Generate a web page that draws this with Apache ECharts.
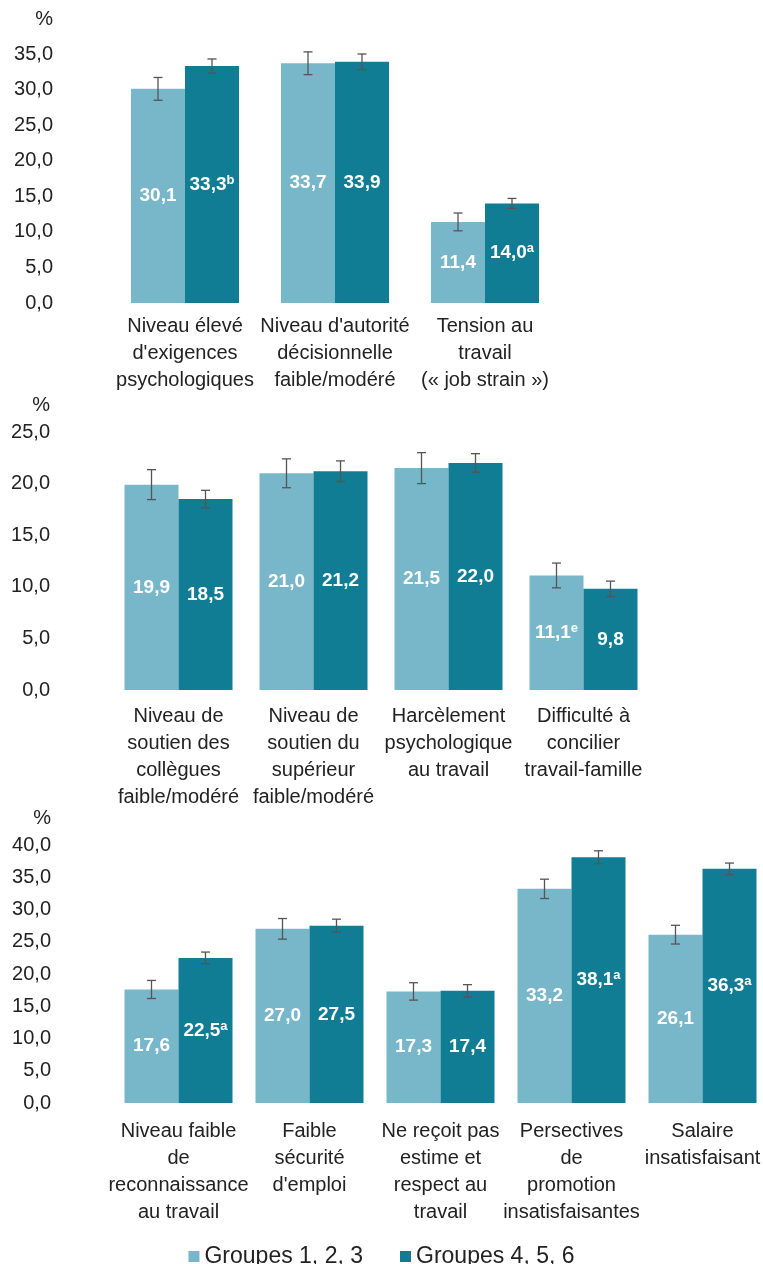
<!DOCTYPE html>
<html>
<head>
<meta charset="utf-8">
<script src="https://cdn.jsdelivr.net/npm/echarts@6/dist/echarts.min.js"></script>
<style>
html,body{margin:0;padding:0;background:#fff;}
#chart{width:763px;height:1264px;}
</style>
</head>
<body>
<div id="chart"></div>
<script>
// ---------- DATA ----------
const seriesNames = ['Groupes 1, 2, 3', 'Groupes 4, 5, 6'];

const cats1 = ["Niveau élevé\nd'exigences\npsychologiques", "Niveau d'autorité\ndécisionnelle\nfaible/modéré", "Tension au\ntravail\n(« job strain »)"];
const g1Vals1 = [30.1, 33.7, 11.4];
const g2Vals1 = [33.3, 33.9, 14.0];
const g1Err1 = [1.6, 1.6, 1.25];
const g2Err1 = [1.0, 1.1, 0.7];
const g1Sup1 = ['', '', ''];
const g2Sup1 = ['b', '', 'a'];

const cats2 = ["Niveau de\nsoutien des\ncollègues\nfaible/modéré", "Niveau de\nsoutien du\nsupérieur\nfaible/modéré", "Harcèlement\npsychologique\nau travail", "Difficulté à\nconcilier\ntravail-famille"];
const g1Vals2 = [19.9, 21.0, 21.5, 11.1];
const g2Vals2 = [18.5, 21.2, 22.0, 9.8];
const g1Err2 = [1.45, 1.4, 1.5, 1.2];
const g2Err2 = [0.85, 1.0, 0.9, 0.75];
const g1Sup2 = ['', '', '', 'e'];
const g2Sup2 = ['', '', '', ''];

const cats3 = ["Niveau faible\nde\nreconnaissance\nau travail", "Faible\nsécurité\nd'emploi", "Ne reçoit pas\nestime et\nrespect au\ntravail", "Persectives\nde\npromotion\ninsatisfaisantes", "Salaire\ninsatisfaisant"];
const g1Vals3 = [17.6, 27.0, 17.3, 33.2, 26.1];
const g2Vals3 = [22.5, 27.5, 17.4, 38.1, 36.3];
const g1Err3 = [1.4, 1.6, 1.35, 1.5, 1.45];
const g2Err3 = [0.9, 1.0, 0.95, 1.0, 0.9];
const g1Sup3 = ['', '', '', '', ''];
const g2Sup3 = ['a', '', '', 'a', 'a'];

const yMax = [35, 25, 40];
const yStep = [5, 5, 5];
const yUnit = '%';

// ---------- STYLE ----------
const LIGHT = '#78b7ca';
const DARK = '#117d94';
const FONT = '"Liberation Sans", Arial, Helvetica, sans-serif';
const BW = 54;

const grids = [
  {left: 110, width: 450, top: 54, height: 249},
  {left: 111, width: 540, top: 432, height: 258},
  {left: 113, width: 655, top: 845, height: 258}
];
const yLabelRight = [53, 50, 51];
const xMargins = [10, 13, 15];

const fmt = v => v.toFixed(1).replace('.', ',');

const panels = [
  {cats: cats1, v: [g1Vals1, g2Vals1], e: [g1Err1, g2Err1], s: [g1Sup1, g2Sup1]},
  {cats: cats2, v: [g1Vals2, g2Vals2], e: [g1Err2, g2Err2], s: [g1Sup2, g2Sup2]},
  {cats: cats3, v: [g1Vals3, g2Vals3], e: [g1Err3, g2Err3], s: [g1Sup3, g2Sup3]}
];

const xAxis = [], yAxis = [], series = [], graphic = [];

function errRender(offset) {
  return function (params, api) {
    const idx = api.value(0);
    const top = api.coord([idx, api.value(2)]);
    const bot = api.coord([idx, api.value(1)]);
    const cx = top[0] + offset;
    const cap = 4.5;
    const st = {stroke: '#555', lineWidth: 1.3};
    return {
      type: 'group',
      children: [
        {type: 'line', shape: {x1: cx, y1: top[1], x2: cx, y2: bot[1]}, style: st},
        {type: 'line', shape: {x1: cx - cap, y1: top[1], x2: cx + cap, y2: top[1]}, style: st},
        {type: 'line', shape: {x1: cx - cap, y1: bot[1], x2: cx + cap, y2: bot[1]}, style: st}
      ]
    };
  };
}

panels.forEach((p, i) => {
  xAxis.push({
    type: 'category', gridIndex: i, data: p.cats,
    axisLine: {show: false}, axisTick: {show: false},
    axisLabel: {interval: 0, margin: xMargins[i], fontSize: 20, lineHeight: 27, color: '#222', fontFamily: FONT}
  });
  yAxis.push({
    type: 'value', gridIndex: i, min: 0, max: yMax[i], interval: yStep[i],
    axisLine: {show: false}, axisTick: {show: false}, splitLine: {show: false},
    axisLabel: {margin: grids[i].left - yLabelRight[i], fontSize: 20, color: '#222', fontFamily: FONT, formatter: v => fmt(v)}
  });
  [0, 1].forEach(k => {
    const sup = p.s[k];
    series.push({
      name: seriesNames[k], type: 'bar', xAxisIndex: i, yAxisIndex: i,
      data: p.v[k], barWidth: BW, barGap: '0%',
      itemStyle: {color: k === 0 ? LIGHT : DARK},
      label: {
        show: true, position: 'inside',
        formatter: prm => '{v|' + fmt(prm.value) + '}' + (sup[prm.dataIndex] ? '{s|' + sup[prm.dataIndex] + '}' : ''),
        rich: {
          v: {fontSize: 19, fontWeight: 'bold', color: '#fff', fontFamily: FONT, lineHeight: 22},
          s: {fontSize: 13, fontWeight: 'bold', color: '#fff', fontFamily: FONT, verticalAlign: 'top', lineHeight: 14}
        }
      },
      emphasis: {disabled: true}
    });
  });
  [0, 1].forEach(k => {
    series.push({
      type: 'custom', xAxisIndex: i, yAxisIndex: i, z: 5,
      renderItem: errRender(k === 0 ? -BW / 2 : BW / 2),
      encode: {x: 0, y: [1, 2]},
      data: p.v[k].map((v, j) => [j, v - p.e[k][j], v + p.e[k][j]]),
      silent: true
    });
  });
  graphic.push({
    type: 'text', x: yLabelRight[i], y: grids[i].top - (i === 0 ? 35 : 27),
    style: {text: yUnit, fontSize: 20, fill: '#222', fontFamily: FONT, align: 'right', verticalAlign: 'middle'}
  });
});

const chart = echarts.init(document.getElementById('chart'), null, {renderer: 'canvas'});
chart.setOption({
  animation: false,
  backgroundColor: '#fff',
  grid: grids.map(g => Object.assign({outerBoundsMode: 'none', containLabel: false}, g)),
  xAxis, yAxis, series, graphic,
  legend: {
    data: seriesNames, left: 'center', top: 1240,
    icon: 'rect', itemWidth: 11, itemHeight: 11, itemGap: 37, itemTextGap: 8,
    textStyle: {fontSize: 23, color: '#222', fontFamily: FONT}
  }
});
</script>
</body>
</html>
